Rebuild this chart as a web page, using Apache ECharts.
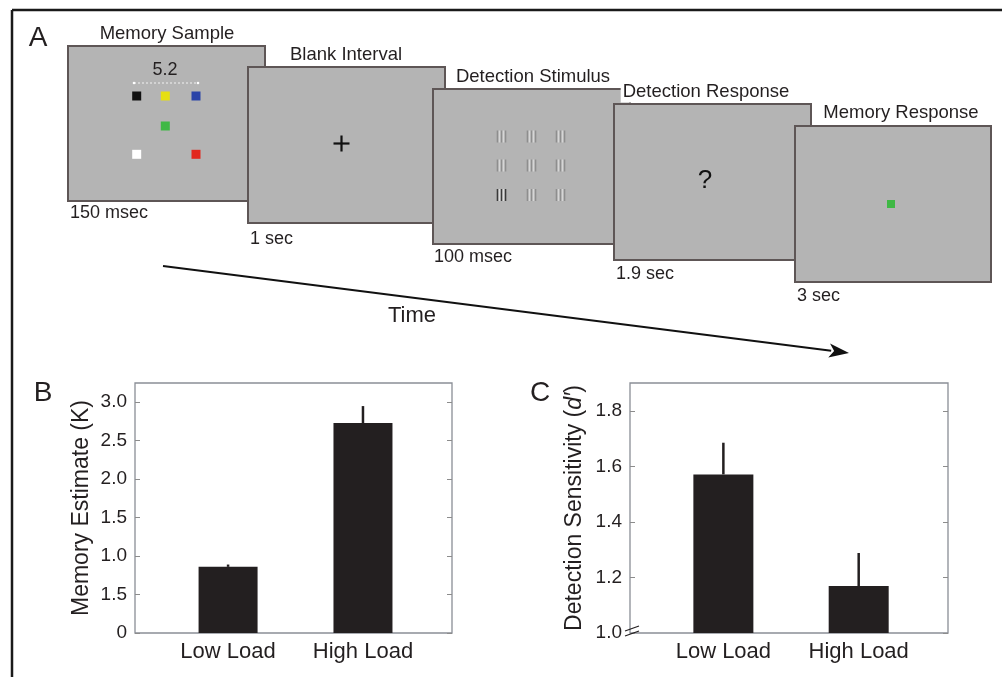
<!DOCTYPE html>
<html>
<head>
<meta charset="utf-8">
<script src="https://cdn.jsdelivr.net/npm/echarts@6/dist/echarts.min.js"></script>
<style>
html,body{margin:0;padding:0;background:#fff;}
#chart{width:1002px;height:677px;}
</style>
</head>
<body>
<div id="chart"></div>
<script>
// ---------- DATA ----------
const screenTitles = ['Memory Sample', 'Blank Interval', 'Detection Stimulus', 'Detection Response', 'Memory Response'];
const screenDurations = ['150 msec', '1 sec', '100 msec', '1.9 sec', '3 sec'];
const sampleSeparation = '5.2';
const timeLabel = 'Time';
const panelLabels = ['A', 'B', 'C'];

const categories = ['Low Load', 'High Load'];
const memoryEstimate = [0.86, 2.73];
const memoryEstimateErrTop = [0.89, 2.95];
const detectionSensitivity = [1.571, 1.169];
const detectionSensitivityErrTop = [1.685, 1.288];

const memoryTickValues = [0, 0.5, 1, 1.5, 2, 2.5, 3];
const memoryTickLabels = ['0', '1.5', '1.0', '1.5', '2.0', '2.5', '3.0'];
const detectionTickValues = [1.0, 1.2, 1.4, 1.6, 1.8];
const detectionTickLabels = ['1.0', '1.2', '1.4', '1.6', '1.8'];
const memoryAxisTitle = 'Memory Estimate (K)';

// ---------- LAYOUT / STYLE ----------
const FONT = 'Liberation Sans, Arial, Helvetica, sans-serif';
const INK = '#231f20';
const screenBoxes = [
  [68, 46, 197, 155],
  [248, 67, 197, 156],
  [433, 89, 197, 155],
  [614, 104, 197, 156],
  [795, 126, 196, 156]
];
const titlePos = [[167, 34], [346, 55], [533, 77], [706, 92], [901, 113]];
const durPos = [[70, 213], [250, 239], [434, 257], [616, 274], [797, 296]];

const graphics = [];
// figure frame (top + left)
graphics.push({type: 'line', shape: {x1: 12, y1: 10, x2: 1002, y2: 10}, style: {stroke: '#1a1a1a', lineWidth: 2.5}, z: 1});
graphics.push({type: 'line', shape: {x1: 12, y1: 10, x2: 12, y2: 677}, style: {stroke: '#1a1a1a', lineWidth: 2.5}, z: 1});

// panel letters
graphics.push({type: 'text', x: 38, y: 38, style: {text: panelLabels[0], font: '28px ' + FONT, fill: INK, align: 'center', verticalAlign: 'middle'}, z: 5});
graphics.push({type: 'text', x: 43, y: 393, style: {text: panelLabels[1], font: '28px ' + FONT, fill: INK, align: 'center', verticalAlign: 'middle'}, z: 5});
graphics.push({type: 'text', x: 540, y: 393, style: {text: panelLabels[2], font: '28px ' + FONT, fill: INK, align: 'center', verticalAlign: 'middle'}, z: 5});

// screens
screenBoxes.forEach((b, i) => {
  const z = 10 + i * 3;
  graphics.push({type: 'rect', shape: {x: b[0], y: b[1], width: b[2], height: b[3]},
    style: {fill: '#b4b4b4', stroke: '#5e5656', lineWidth: 2}, z: z});
  graphics.push({type: 'text', x: titlePos[i][0], y: titlePos[i][1],
    style: {text: screenTitles[i], font: '18.5px ' + FONT, fill: INK, align: 'center', verticalAlign: 'middle',
      backgroundColor: '#fff', padding: [1, 2]}, z: z + 1});
  graphics.push({type: 'text', x: durPos[i][0], y: durPos[i][1],
    style: {text: screenDurations[i], font: '18px ' + FONT, fill: INK, align: 'left', verticalAlign: 'middle'}, z: z + 1});
});

// screen 1 contents
(function () {
  const ox = screenBoxes[0][0], oy = screenBoxes[0][1], z = 12;
  graphics.push({type: 'text', x: ox + 97, y: oy + 24, style: {text: sampleSeparation, font: '18px ' + FONT, fill: INK, align: 'center', verticalAlign: 'middle'}, z: z});
  graphics.push({type: 'line', shape: {x1: ox + 66, y1: oy + 37, x2: ox + 130, y2: oy + 37}, style: {stroke: '#f2f2f2', lineWidth: 1, lineDash: [2, 2]}, z: z});
  graphics.push({type: 'circle', shape: {cx: ox + 66, cy: oy + 37, r: 1.3}, style: {fill: '#fff'}, z: z});
  graphics.push({type: 'circle', shape: {cx: ox + 130, cy: oy + 37, r: 1.3}, style: {fill: '#fff'}, z: z});
  const sq = [[68.7, 50, '#111111'], [97.3, 50, '#e6df12'], [128, 50, '#2b44a8'], [97.3, 80, '#3fb845'], [68.7, 108.3, '#ffffff'], [128, 108.3, '#e2281e']];
  sq.forEach(s => graphics.push({type: 'rect', shape: {x: ox + s[0] - 4.5, y: oy + s[1] - 4.5, width: 9, height: 9}, style: {fill: s[2]}, z: z}));
})();

// screen 2 fixation cross
(function () {
  const cx = 341.5, cy = 143.5, z = 15;
  graphics.push({type: 'line', shape: {x1: cx - 8, y1: cy, x2: cx + 8, y2: cy}, style: {stroke: '#111', lineWidth: 2.2}, z: z});
  graphics.push({type: 'line', shape: {x1: cx, y1: cy - 8, x2: cx, y2: cy + 8}, style: {stroke: '#111', lineWidth: 2.2}, z: z});
})();

// screen 3 gratings
(function () {
  const xs = [501.5, 531.5, 560.5], ys = [136.5, 165.5, 195], z = 18;
  ys.forEach((y, r) => xs.forEach((x, c) => {
    const target = (r === 2 && c === 0);
    [-4, 0, 4].forEach(d => graphics.push({type: 'line', shape: {x1: x + d, y1: y - 6, x2: x + d, y2: y + 6},
      style: {stroke: target ? '#3a3a3a' : '#8e8e8e', lineWidth: 1.6}, z: z}));
    [-2, 2].forEach(d => graphics.push({type: 'line', shape: {x1: x + d, y1: y - 6, x2: x + d, y2: y + 6},
      style: {stroke: target ? '#dcdcdc' : '#d6d6d6', lineWidth: 1.6}, z: z}));
  }));
})();

// screen 4 question mark
graphics.push({type: 'text', x: 705, y: 181, style: {text: '?', font: '26px ' + FONT, fill: '#111', align: 'center', verticalAlign: 'middle'}, z: 21});
// screen 5 probe
graphics.push({type: 'rect', shape: {x: 887, y: 200, width: 8, height: 8}, style: {fill: '#3fb845'}, z: 24});

// time arrow
(function () {
  const x1 = 163, y1 = 266, tx = 849, ty = 353;
  const a = Math.atan2(ty - y1, tx - x1), L = 20, W = 7;
  const bx = tx - L * Math.cos(a), by = ty - L * Math.sin(a);
  graphics.push({type: 'line', shape: {x1: x1, y1: y1, x2: bx + 2 * Math.cos(a), y2: by + 2 * Math.sin(a)}, style: {stroke: '#111', lineWidth: 2}, z: 5});
  graphics.push({type: 'polygon', shape: {points: [[tx, ty], [bx - W * Math.sin(a), by + W * Math.cos(a)], [bx + 5 * Math.cos(a), by + 5 * Math.sin(a)], [bx + W * Math.sin(a), by - W * Math.cos(a)]]}, style: {fill: '#111'}, z: 5});
  graphics.push({type: 'text', x: 412, y: 316, style: {text: timeLabel, font: '22px ' + FONT, fill: INK, align: 'center', verticalAlign: 'middle'}, z: 5});
})();

// axis break marks in panel C
graphics.push({type: 'line', shape: {x1: 625, y1: 631, x2: 639, y2: 626}, style: {stroke: INK, lineWidth: 1.3}, z: 50});
graphics.push({type: 'line', shape: {x1: 625, y1: 636, x2: 639, y2: 631}, style: {stroke: INK, lineWidth: 1.3}, z: 50});

// ---------- CHART ----------
function xAxisFor(gi) {
  return {
    type: 'value', gridIndex: gi, min: 0.31, max: 2.66,
    axisLine: {show: false}, splitLine: {show: false},
    axisTick: {show: false},
    axisLabel: {
      customValues: [1, 2], margin: 8,
      formatter: v => categories[Math.round(v) - 1] || '',
      fontSize: 22, fontFamily: FONT, color: INK
    }
  };
}
function yAxisFor(gi, min, max, vals, labels, pos, showLabels, name, nameGap, nameStyle) {
  return {
    type: 'value', gridIndex: gi, min: min, max: max, position: pos,
    axisLine: {show: false}, splitLine: {show: false},
    axisTick: {show: true, inside: true, length: 5, customValues: vals, lineStyle: {color: '#8c8c8c', width: 1}},
    axisLabel: {
      show: showLabels, customValues: vals, margin: 8,
      formatter: v => { const k = vals.findIndex(t => Math.abs(t - v) < 1e-6); return k >= 0 ? labels[k] : ''; },
      fontSize: 19, fontFamily: FONT, color: INK
    },
    name: name, nameLocation: 'middle', nameGap: nameGap, nameRotate: 90,
    nameTextStyle: nameStyle
  };
}

function errRender(params, api) {
  const x = api.value(0), lo = api.value(1), hi = api.value(2);
  const p1 = api.coord([x, lo]), p2 = api.coord([x, hi]);
  return {type: 'line', shape: {x1: p1[0], y1: p1[1], x2: p2[0], y2: p2[1]}, style: {stroke: INK, lineWidth: 2.5}};
}

const option = {
  animation: false,
  backgroundColor: '#fff',
  textStyle: {fontFamily: FONT},
  grid: [
    {left: 135, top: 383, width: 317, height: 250, show: true, borderColor: '#8a8e96', borderWidth: 1.3, backgroundColor: 'transparent'},
    {left: 630, top: 383, width: 318, height: 250, show: true, borderColor: '#8a8e96', borderWidth: 1.3, backgroundColor: 'transparent'}
  ],
  xAxis: [xAxisFor(0), xAxisFor(1)],
  yAxis: [
    yAxisFor(0, 0, 3.25, memoryTickValues, memoryTickLabels, 'left', true, memoryAxisTitle, 42,
      {fontSize: 23, fontFamily: FONT, color: INK}),
    yAxisFor(0, 0, 3.25, memoryTickValues, memoryTickLabels, 'right', false, '', 0, {}),
    yAxisFor(1, 1.0, 1.9, detectionTickValues, detectionTickLabels, 'left', true,
      '{n|Detection Sensitivity (}{i|d′}{n|)}', 44,
      {fontSize: 23, fontFamily: FONT, color: INK,
        rich: {n: {fontSize: 23, fontFamily: FONT, color: INK}, i: {fontSize: 23, fontFamily: FONT, color: INK, fontStyle: 'italic'}}}),
    yAxisFor(1, 1.0, 1.9, detectionTickValues, detectionTickLabels, 'right', false, '', 0, {})
  ],
  series: [
    {type: 'bar', xAxisIndex: 0, yAxisIndex: 0, barWidth: 59, itemStyle: {color: INK},
      data: categories.map((c, i) => [i + 1, memoryEstimate[i]]), z: 3},
    {type: 'custom', xAxisIndex: 0, yAxisIndex: 0, renderItem: errRender, z: 2,
      data: categories.map((c, i) => [i + 1, memoryEstimate[i], memoryEstimateErrTop[i]])},
    {type: 'bar', xAxisIndex: 1, yAxisIndex: 2, barWidth: 60, itemStyle: {color: INK},
      data: categories.map((c, i) => [i + 1, detectionSensitivity[i]]), z: 3},
    {type: 'custom', xAxisIndex: 1, yAxisIndex: 2, renderItem: errRender, z: 2,
      data: categories.map((c, i) => [i + 1, detectionSensitivity[i], detectionSensitivityErrTop[i]])}
  ],
  graphic: {elements: graphics}
};

const chart = echarts.init(document.getElementById('chart'), null, {renderer: 'canvas'});
chart.setOption(option);
</script>
</body>
</html>
